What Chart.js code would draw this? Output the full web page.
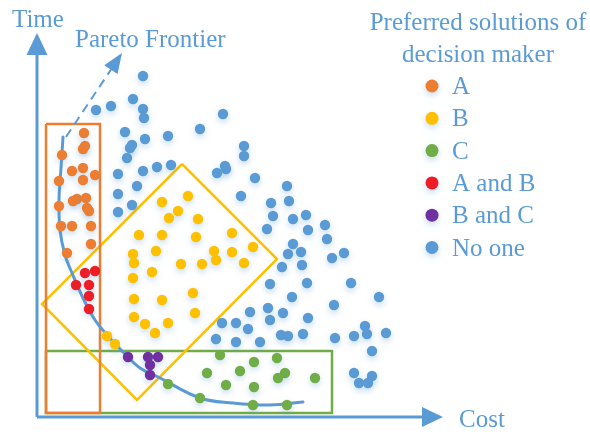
<!DOCTYPE html>
<html>
<head>
<meta charset="utf-8">
<script src="https://cdn.jsdelivr.net/npm/chart.js@4"></script>
<style>
  html, body { margin: 0; padding: 0; background: #fff; }
  canvas { display: block; }
</style>
</head>
<body>
<canvas id="pareto-chart" width="590" height="434"></canvas>
<script>
// point positions (cost to the right, time downwards)
const prefA = [[84,133],[85,146],[83,149],[62,155],[83,168],[72,171],[95,175],[83,180],[59,181],[77,199],
  [73,201],[86,198],[87,208],[89,211],[59,206],[61,226],[72,226],[91,226],[91,244],[67,253]];
const prefB = [[139,235],[133,254],[134,263],[156,251],[152,272],[162,202],[188,196],[178,211],[169,218],[198,219],
  [162,235],[196,237],[232,233],[214,251],[216,260],[232,252],[253,247],[181,264],[202,264],[244,263],
  [133,278],[134,299],[134,317],[145,324],[155,333],[162,300],[193,293],[195,313],[168,323],[107,336],[115,344]];
const prefC = [[220,355],[254,362],[240,371],[207,373],[226,385],[254,387],[168,384],[200,398],[253,405],
  [277,358],[285,373],[278,378],[315,378],[287,405]];
const prefAB = [[85,273],[95,271],[76,285],[89,285],[89,296],[89,309]];
const prefBC = [[128,357],[148,357],[158,357],[150,365],[150,375]];
const noOne = [[143,76],[133,99],[111,106],[96,110],[143,109],[144,118],[125,132],[145,139],[132,145],[130,148],
  [127,158],[118,174],[143,171],[157,167],[223,114],[200,129],[168,136],[244,146],[244,156],[171,165],
  [225,166],[226,169],[217,173],[255,178],[137,186],[118,194],[132,205],[118,212],[241,196],[267,229],
  [287,186],[289,201],[271,203],[273,216],[293,219],[306,215],[308,230],[325,225],[327,239],[293,244],
  [301,252],[288,254],[332,258],[344,253],[282,267],[302,265],[222,323],[236,323],[250,312],[248,329],
  [216,339],[236,342],[260,342],[270,284],[268,308],[270,320],[307,283],[292,297],[351,283],[379,297],
  [334,305],[283,313],[308,318],[365,326],[367,334],[386,333],[354,336],[335,338],[281,335],[288,336],
  [303,334],[372,351],[354,373],[372,376],[359,383],[368,383]];

// frontier curve and the preference regions
const pareto = [[63,137],[61,168],[59,200],[60,230],[65,255],[72,273],[83,298],[95,320],[107,335],[123,352],
  [140,368],[160,378],[200,398],[233,403],[270,405],[303,402]];
const frontierDir = [[66,137],[112,68]];
const regionA = [[46,124],[100,124],[100,413],[46,413],[46,124]];
const regionB = [[182,164],[277,259],[137,400],[42,304],[182,164]];
const regionC = [[46,351],[332,351],[332,413],[46,413],[46,351]];

const legendLabels = ["A", "B", "C", "A and B", "B and C", "No one"];
const legendColors = ["#ed7d31", "#ffc000", "#70ad47", "#ee1c25", "#7030a0", "#5b9bd5"];
const axisCorner = [37, 417];

const BLUE = '#5b9bd5';
const SERIF = '"Liberation Serif", "Times New Roman", serif';

const toXY = arr => arr.map(p => ({x: p[0], y: p[1]}));

function pointSet(label, pts, color) {
    return {
        label: label, data: toXY(pts), glow: true, order: 1,
        pointRadius: 5.2, pointHoverRadius: 5.2, pointBorderWidth: 0,
        backgroundColor: color, borderColor: color, showLine: false
    };
}
function lineSet(label, pts, color, extra) {
    return Object.assign({
        label: label, data: toXY(pts), order: 2, showLine: true,
        pointRadius: 0, borderColor: color, borderWidth: 2.5, tension: 0,
        backgroundColor: 'transparent', fill: false, borderJoinStyle: 'miter'
    }, extra || {});
}

function arrowHead(ctx, x0, y0, x1, y1, len, half) {
    const a = Math.atan2(y1 - y0, x1 - x0);
    ctx.beginPath();
    ctx.moveTo(x1, y1);
    ctx.lineTo(x1 - len * Math.cos(a) + half * Math.sin(a), y1 - len * Math.sin(a) - half * Math.cos(a));
    ctx.lineTo(x1 - len * Math.cos(a) - half * Math.sin(a), y1 - len * Math.sin(a) + half * Math.cos(a));
    ctx.closePath();
    ctx.fill();
}

const decor = {
    id: 'decor',
    beforeDatasetDraw(chart, args) {
        if (chart.data.datasets[args.index].glow) {
            const c = chart.ctx;
            c.save();
            c.shadowColor = 'rgba(91,155,213,0.35)';
            c.shadowBlur = 6;
            c.shadowOffsetY = 3;
        }
    },
    afterDatasetDraw(chart, args) {
        if (chart.data.datasets[args.index].glow) chart.ctx.restore();
    },
    afterDraw(chart) {
        const ctx = chart.ctx;
        const sx = chart.scales.x, sy = chart.scales.y;
        const ox = sx.getPixelForValue(axisCorner[0]);
        const oy = sy.getPixelForValue(axisCorner[1]);
        ctx.save();
        ctx.strokeStyle = BLUE;
        ctx.fillStyle = BLUE;
        ctx.lineWidth = 3;
        // axes
        ctx.beginPath();
        ctx.moveTo(ox, oy); ctx.lineTo(ox, 50);
        ctx.moveTo(ox, oy); ctx.lineTo(426, oy);
        ctx.stroke();
        arrowHead(ctx, ox, oy, ox, 33, 22, 10.5);
        arrowHead(ctx, ox, oy, 443, oy, 21, 10);
        // dashed frontier arrow head
        const f0 = frontierDir[0], f1 = frontierDir[1];
        const x0 = sx.getPixelForValue(f0[0]), y0 = sy.getPixelForValue(f0[1]);
        const x1 = sx.getPixelForValue(f1[0]), y1 = sy.getPixelForValue(f1[1]);
        const a = Math.atan2(y1 - y0, x1 - x0);
        arrowHead(ctx, x0, y0, x1 + 18 * Math.cos(a), y1 + 18 * Math.sin(a), 20, 8);

        // texts
        ctx.font = '25px ' + SERIF;
        ctx.textBaseline = 'alphabetic';
        ctx.textAlign = 'left';
        ctx.fillText('Time', 12, 27);
        ctx.fillText('Pareto Frontier', 75, 47);
        ctx.fillText('Cost', 459, 427);
        ctx.textAlign = 'center';
        ctx.fillText('Preferred solutions of', 478, 30);
        ctx.fillText('decision maker', 478, 62);

        // legend
        ctx.textAlign = 'left';
        legendLabels.forEach((label, i) => {
            const y = 86 + i * 32.3;
            ctx.save();
            ctx.shadowColor = 'rgba(91,155,213,0.35)';
            ctx.shadowBlur = 6;
            ctx.shadowOffsetY = 3;
            ctx.fillStyle = legendColors[i];
            ctx.beginPath();
            ctx.arc(432, y, 6.5, 0, Math.PI * 2);
            ctx.fill();
            ctx.restore();
            ctx.fillText(label, 452, y + 8);
        });
        ctx.restore();
    }
};

document.addEventListener('DOMContentLoaded', function() {
    const canvas = document.getElementById('pareto-chart');
    new Chart(canvas.getContext('2d'), {
        type: 'scatter',
        data: {
            datasets: [
                pointSet('A', prefA, legendColors[0]),
                pointSet('B', prefB, legendColors[1]),
                pointSet('C', prefC, legendColors[2]),
                pointSet('A and B', prefAB, legendColors[3]),
                pointSet('B and C', prefBC, legendColors[4]),
                pointSet('No one', noOne, legendColors[5]),
                lineSet('Pareto frontier', pareto, BLUE, {tension: 0.4, borderWidth: 3, borderCapStyle: 'round'}),
                lineSet('Frontier direction', frontierDir, BLUE, {borderWidth: 2, borderDash: [9, 6]}),
                lineSet('Region A', regionA, '#ed7d31'),
                lineSet('Region B', regionB, '#ffc000'),
                lineSet('Region C', regionC, '#70ad47')
            ]
        },
        options: {
            responsive: false,
            animation: false,
            events: [],
            layout: { padding: 0, autoPadding: false },
            scales: {
                x: { type: 'linear', min: 0, max: 590, display: false },
                y: { type: 'linear', min: 0, max: 434, reverse: true, display: false }
            },
            plugins: {
                legend: { display: false },
                tooltip: { enabled: false }
            }
        },
        plugins: [decor]
    });
});
</script>
</body>
</html>
